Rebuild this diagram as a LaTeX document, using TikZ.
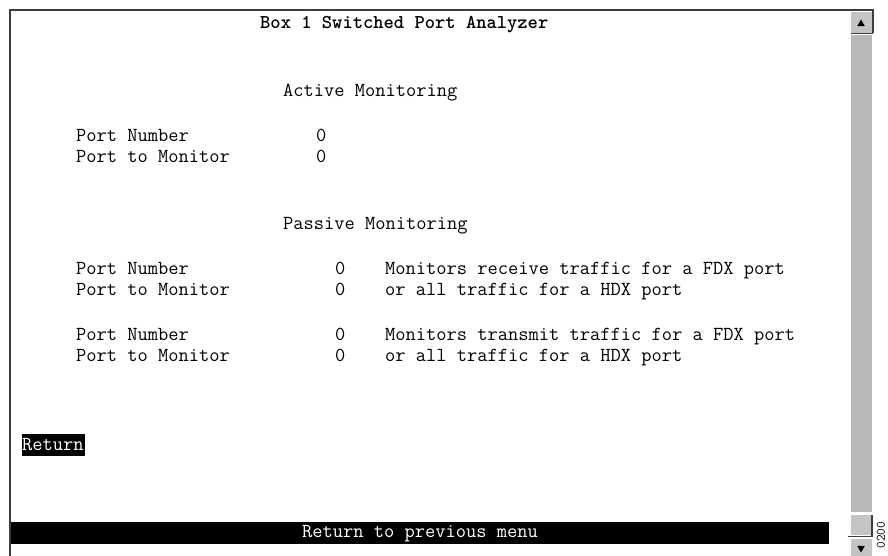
\documentclass[tikz,border=0pt]{standalone}
\usepackage{fontspec}
\usetikzlibrary{shapes.geometric}
\definecolor{framegray}{HTML}{3C3C3C}
\definecolor{trackgray}{HTML}{B8B8B8}
\definecolor{btngray}{HTML}{C4C4C4}
\tikzset{
  term/.style={anchor=base west, inner sep=0pt, font=\fontsize{19.9}{22}\selectfont\ttfamily},
  termbold/.style={term, font=\fontsize{19.6}{22}\selectfont\ttfamily\bfseries},
  inverse/.style={term, text=white},
  frameline/.style={draw=framegray, line width=2.6pt},
  edge3d/.style={draw=framegray, line width=1.8pt},
  arrowtri/.style={fill=black, draw=none, regular polygon, regular polygon sides=3, inner sep=0pt, minimum size=9pt}
}
\begin{document}
\begin{tikzpicture}[x=1pt, y=-1pt]
\useasboundingbox (0,0) rectangle (888,556);
\fill[white] (0,0) rectangle (888,556);

% window frame
\draw[frameline] (10,556) -- (10,10) -- (873,10) -- (873,33);

% scrollbar: up button, track, lower box, down button
\fill[btngray] (851,12) rectangle (872,33);
\draw[edge3d] (851,33.5) -- (873,33.5);
\node[arrowtri] (uptri) at (861,24) {};
\fill[trackgray] (851,35) rectangle (872,512);
\fill[btngray] (851,515) rectangle (871,535);
\draw[edge3d] (872,515) -- (872,536.5) -- (848,536.5);
\fill[btngray] (851,539) rectangle (872,556);
\node[arrowtri, shape border rotate=180] (downtri) at (861,548) {};

% figure number
\node[rotate=90, inner sep=0pt, font=\fontsize{13}{14}\selectfont\ttfamily] (figno) at (881,535) {0200};

% title
\node[termbold] (title) at (260,29) {Box 1 Switched Port Analyzer};

% active monitoring
\node[term] (acthead) at (283,97) {Active Monitoring};
\node[term] (actpn) at (76,142) {Port Number};
\node[term] (actpnv) at (316,142) {0};
\node[term] (actpm) at (76,163) {Port to Monitor};
\node[term] (actpmv) at (316,163) {0};

% passive monitoring
\node[term] (pashead) at (283,229) {Passive Monitoring};
\node[term] (rxpn) at (76,274) {Port Number};
\node[term] (rxpnv) at (335,274) {0};
\node[term] (rxnote1) at (385,274) {Monitors receive traffic for a FDX port};
\node[term] (rxpm) at (76,295) {Port to Monitor};
\node[term] (rxpmv) at (335,295) {0};
\node[term] (rxnote2) at (385,295) {or all traffic for a HDX port};
\node[term] (txpn) at (76,340) {Port Number};
\node[term] (txpnv) at (335,340) {0};
\node[term] (txnote1) at (385,340) {Monitors transmit traffic for a FDX port};
\node[term] (txpm) at (76,361) {Port to Monitor};
\node[term] (txpmv) at (335,361) {0};
\node[term] (txnote2) at (385,361) {or all traffic for a HDX port};

% highlighted return entry
\fill[black] (22,434) rectangle (85,456);
\node[inverse] (ret) at (22,450) {Return};

% status bar
\fill[black] (11,522) rectangle (829,544);
\node[inverse, anchor=base] (status) at (420,537) {Return to previous menu};
\end{tikzpicture}
\end{document}
